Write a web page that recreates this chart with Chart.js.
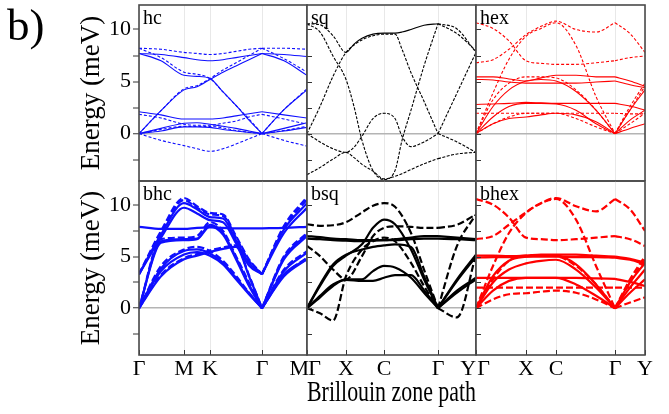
<!DOCTYPE html>
<html><head><meta charset="utf-8">
<script src="https://cdn.jsdelivr.net/npm/chart.js@4.4.1/dist/chart.umd.min.js"></script>
<style>
html,body{margin:0;padding:0;background:#fff;}
#wrap{position:relative;width:669px;height:414px;overflow:hidden;background:#fff;}
canvas{position:absolute;left:0;top:0;}
</style></head><body><div id="wrap">
<canvas id="c0" width="669" height="414"></canvas>
<canvas id="c1" width="669" height="414"></canvas>
<canvas id="c2" width="669" height="414"></canvas>
<canvas id="c3" width="669" height="414"></canvas>
<canvas id="c4" width="669" height="414"></canvas>
<canvas id="c5" width="669" height="414"></canvas>
</div>
<script>
// ---------- data (meV) ----------
const yTickVals = [-2.5, 0, 2.5, 5, 7.5, 10];
const yMin = -4.55, yMax = 12.35;

// honeycomb path  Γ-M-K-Γ-M
const kHc = [0, 22, 45, 58, 71, 84, 97, 110, 123, 145, 168];
const hcTickPos = [0, 45, 71, 123, 168];
const hcTickNames = ['Γ', 'M', 'K', 'Γ', 'M\u2002\u2009'];
// square path Γ-X-C-Γ-Y
const kSq = [0, 13, 26, 39, 47, 55, 66, 77, 88, 95, 104, 117, 131, 150, 169];
const kBsq = [0, 13, 26, 39, 55, 66, 77, 88, 104, 117, 131, 150, 169];
const sqTickPos = [0, 39, 77, 131, 169];
const sqTickNames = ['\u2009\u2002Γ', 'X', 'C', 'Γ', 'Y\u2002\u2009'];
// hexagonal (rect. cell) path Γ-X-C-Γ-Y
const kHex = [0, 17, 33, 50, 65, 80, 100, 120, 139, 154, 169];
const hexTickPos = [0, 50, 80, 139, 169];
const hexTickNames = ['\u2009\u2002Γ', 'X', 'C', 'Γ', 'Y'];

// hc
const hc1 = [8.2, 8.1, 7.8, 7.7, 7.6, 7.7, 7.9, 8.1, 8.2, 8.2, 8.1];
const hc2 = [7.7, 7.6, 7.3, 7.1, 7.0, 7.1, 7.3, 7.5, 7.7, 7.6, 7.4];
const hc3 = [7.7, 7.0, 5.6, 5.5, 5.3, 4.0, 2.7, 1.3, 0, 2.3, 4.2];
const hc3d = [8.2, 7.3, 5.9, 5.7, 5.3, 4.0, 2.7, 1.4, 0, 2.3, 4.3];
const hc4 = [0, 2.2, 4.2, 4.5, 5.2, 5.9, 6.5, 7.1, 7.7, 7.0, 5.6];
const hc4d = [0, 2.2, 4.3, 4.6, 5.3, 6.1, 6.8, 7.5, 8.2, 7.2, 5.9];
const hc5 = [2.1, 1.8, 1.4, 1.4, 1.4, 1.5, 1.7, 1.9, 2.1, 1.8, 1.5];
const hc6 = [1.85, 1.5, 0.9, 0.8, 0.8, 1.0, 1.2, 1.6, 1.85, 1.4, 0.9];
const hc7 = [0, 0.5, 1.0, 1.05, 0.9, 0.7, 0.5, 0.25, 0, 0.5, 1.05];
const hc8 = [0, 0.4, 0.7, 0.7, 0.7, 0.55, 0.3, 0.13, 0, 0.3, 0.7];
const hc9 = [0, 0.25, 0.65, 0.65, 0.6, 0.4, 0.25, 0.1, 0, 0.25, 0.6];
const hc10 = [0, -0.65, -1.15, -1.45, -1.7, -1.45, -1.0, -0.5, 0, -0.65, -1.2];

// sq
const sqA = [10.55, 10.45, 9.4, 7.8, 8.6, 9.15, 9.55, 9.65, 9.65, 9.75, 10.0, 10.4, 10.55, 9.6, 7.95];
const sqB = [10.55, 9.75, 7.45, 5.2, 2.6, -0.65, -3.55, -4.4, -3.55, -0.65, 2.25, 6.5, 10.55, 10.05, 7.8];
const sqC = [0, 2.6, 5.5, 7.8, 8.5, 9.0, 9.4, 9.55, 9.55, 8.1, 5.85, 3.1, 0, -0.8, -1.8];
const sqD = [0, -0.8, -1.45, -1.8, -1.3, -0.25, 1.45, 1.95, 1.45, -0.25, -1.25, -0.8, 0, 3.9, 7.8];
const sqE = [-3.95, -3.25, -2.45, -1.8, -2.3, -2.95, -3.6, -4.35, -4.1, -3.85, -3.45, -2.9, -2.4, -1.95, -1.8];

// hex
const hex1 = [10.65, 10.1, 8.9, 7.0, 6.75, 6.65, 6.65, 6.8, 7.0, 7.3, 7.45];
const hex2 = [6.8, 7.1, 8.1, 9.5, 10.3, 10.8, 10.0, 9.75, 10.65, 9.6, 7.8];
const hex3 = [0, 3.9, 7.15, 9.35, 10.1, 10.65, 8.45, 3.55, 0, 2.3, 4.55];
const hex4 = [5.45, 5.45, 5.25, 5.05, 5.35, 5.6, 5.6, 5.45, 5.45, 5.05, 4.55];
const hex5 = [5.2, 5.15, 4.95, 4.85, 4.85, 4.85, 4.85, 4.95, 5.05, 4.7, 4.4];
const hex6 = [2.8, 2.85, 2.9, 3.0, 2.95, 2.9, 2.9, 2.9, 2.9, 2.65, 2.25];
const hex7 = [1.95, 1.95, 1.95, 1.95, 1.95, 1.95, 1.95, 1.95, 1.95, 1.9, 1.9];
const hex8 = [0, 0.95, 1.45, 1.6, 1.8, 1.95, 1.8, 1.15, 0, 0.5, 0.95];
const hex9 = [0, 2.6, 4.2, 5.05, 5.2, 5.05, 4.05, 2.25, 0, 2.25, 4.2];
const hex10 = [0, 3.25, 4.85, 5.45, 5.45, 5.35, 4.2, 2.25, 0, 2.6, 4.85];
const hex11 = [0, 1.6, 2.6, 2.9, 2.9, 2.85, 2.25, 0.95, 0, 1.3, 2.25];
const hex12 = [0, 0.95, 1.6, 1.95, 1.95, 1.95, 1.45, 0.65, 0, 0.95, 1.95];

// bhc
const bhcFlat = [7.9, 7.7, 7.7, 7.8, 7.85, 7.8, 7.75, 7.75, 7.75, 7.8, 7.9];
const bhcT1 = [3.3, 7.5, 10.7, 9.9, 9.25, 9.1, 7.0, 4.75, 3.3, 8.0, 10.8];
const bhcT2 = [3.3, 7.3, 10.5, 9.75, 9.1, 8.95, 6.85, 4.6, 3.3, 7.8, 10.55];
const bhcT3 = [3.3, 7.15, 10.2, 9.6, 8.85, 8.7, 6.6, 4.4, 3.3, 7.65, 10.2];
const bhcT4 = [3.3, 6.85, 9.75, 9.2, 8.55, 8.35, 6.3, 4.15, 3.3, 7.3, 9.75];
const bhcM1 = [0, 6.7, 6.85, 7.0, 8.35, 7.5, 5.05, 2.5, 0, 5.05, 7.3];
const bhcM2 = [0, 6.5, 6.7, 6.75, 8.1, 7.3, 4.9, 2.3, 0, 4.9, 7.15];
const bhcM3 = [0, 6.35, 6.6, 6.7, 7.95, 7.15, 4.75, 2.15, 0, 4.75, 7.0];
const bhcL1 = [0, 4.1, 5.7, 5.95, 5.55, 4.6, 3.15, 1.5, 0, 3.75, 5.55];
const bhcL2 = [0, 3.85, 5.55, 5.7, 5.3, 4.4, 2.95, 1.45, 0, 3.6, 5.4];
const bhcL3 = [0, 3.6, 5.2, 5.45, 5.1, 4.25, 2.8, 1.35, 0, 3.3, 4.75];
const bhcB1 = [0, 3.1, 4.75, 5.1, 5.45, 5.75, 5.95, 3.1, 0, 3.1, 4.75];
const bhcB2 = [0, 3.25, 4.85, 5.25, 5.6, 5.9, 6.1, 3.2, 0, 3.2, 4.9];

// bsq
const bsqD1 = [8.15, 8.0, 8.05, 8.35, 9.3, 9.95, 10.2, 9.85, 7.3, 3.75, 0, 6.05, 9.1];
const bsqD2 = [6.05, 5.05, 3.75, 2.8, 5.05, 7.0, 7.8, 7.95, 7.9, 7.8, 7.8, 8.1, 9.1];
const bsqD3 = [0, -0.5, -1.2, 3.1, 5.7, 6.5, 6.85, 6.5, 4.4, 2.15, 0, -0.9, 5.2];
const bsqF1 = [7.0, 6.9, 6.75, 6.7, 6.6, 6.6, 6.6, 6.7, 6.85, 7.0, 7.0, 6.85, 6.7];
const bsqF2 = [6.75, 6.7, 6.6, 6.55, 6.5, 6.55, 6.6, 6.6, 6.7, 6.75, 6.75, 6.7, 6.6];
const bsqS1 = [0, 2.15, 4.1, 5.1, 6.2, 7.8, 8.6, 8.15, 5.7, 2.8, 0, 2.8, 5.2];
const bsqS2 = [0, 2.3, 4.25, 5.2, 5.7, 5.95, 6.1, 6.2, 5.95, 3.1, 0, 2.65, 5.0];
const bsqS3 = [0, 1.05, 2.15, 2.8, 2.8, 3.6, 4.1, 3.95, 2.95, 1.5, 0, 1.5, 2.8];
const bsqS4 = [0, 1.2, 2.3, 2.75, 2.65, 2.65, 2.95, 3.2, 3.2, 1.75, 0, 1.7, 2.95];

// bhex
const bhex1 = [10.6, 10.05, 8.8, 6.85, 6.7, 6.6, 6.7, 6.85, 7.0, 6.7, 6.05];
const bhex2 = [6.7, 7.0, 8.1, 9.3, 10.2, 10.7, 9.9, 9.4, 10.6, 9.6, 7.5];
const bhex3 = [0, 4.1, 7.3, 9.25, 10.2, 10.6, 8.6, 4.1, 0, 2.5, 4.75];
const bhex4 = [5.1, 5.1, 5.05, 5.1, 5.2, 5.2, 5.2, 5.1, 5.0, 4.8, 4.4];
const bhex5 = [4.9, 4.95, 4.95, 5.0, 5.0, 5.0, 4.95, 4.95, 4.9, 4.7, 4.25];
const bhex6 = [2.95, 2.95, 2.95, 2.95, 2.95, 2.95, 2.95, 2.9, 2.85, 2.55, 2.15];
const bhex7 = [2.0, 2.0, 2.0, 2.0, 2.0, 2.0, 2.0, 2.0, 2.0, 2.0, 2.0];
const bhex8 = [0, 0.85, 1.35, 1.45, 1.6, 1.7, 1.5, 0.85, 0, 0.55, 1.05];
const bhex9 = [0, 3.1, 4.6, 5.0, 5.1, 5.1, 4.25, 2.3, 0, 2.5, 4.4];
const bhex10 = [0, 2.5, 3.75, 4.35, 4.6, 4.7, 3.75, 2.0, 0, 2.0, 3.75];
const bhex11 = [0, 1.7, 2.65, 2.95, 2.95, 2.95, 2.3, 1.2, 0, 1.5, 2.8];
const bhex12 = [0, 2.8, 4.6, 5.1, 5.1, 5.05, 4.1, 2.3, 0, 2.8, 5.05];

// ---------- layout / style ----------
const W = 669, H = 414;
const colX = [139, 307, 476, 645];
const rowY = [5, 181, 355];
const FONT = "'Liberation Serif', 'Times New Roman', serif";
const BLUE = 'rgb(15,15,255)', RED = 'rgb(255,0,0)', BLACK = '#000';

// solidRange: [x0, x1] interval of k drawn solid (others use dash)
function bandSets(k, bands, color, width, dash, split, solidRange) {
  const out = [];
  bands.forEach(b => {
    [[0, split], [split, k.length - 1]].forEach(([i0, i1]) => {
      const pts = [];
      for (let i = i0; i <= i1; i++) pts.push({x: k[i], y: b[i]});
      const ds = {data: pts, borderColor: color, borderWidth: width, borderDash: dash,
        pointRadius: 0, fill: false, cubicInterpolationMode: 'monotone', borderCapStyle: 'butt'};
      if (solidRange) {
        ds.segment = {borderDash: c => (c.p0.parsed.x >= solidRange[0] && c.p1.parsed.x <= solidRange[1]) ? [] : dash};
      }
      out.push(ds);
    });
  });
  return out;
}

const panelDeco = {
  id: 'panelDeco',
  afterDatasetsDraw(chart, args, o) {
    const {ctx, chartArea: a} = chart;
    const ys = chart.scales.y, xs = chart.scales.x;
    ctx.save();
    ctx.strokeStyle = '#333'; ctx.lineWidth = 1;
    if (o.innerTicks) {
      ys.ticks.forEach(t => {
        const py = Math.round(ys.getPixelForValue(t.value)) + 0.5;
        ctx.beginPath(); ctx.moveTo(a.left, py); ctx.lineTo(a.left + 5, py); ctx.stroke();
      });
    }
    if (o.bottomTicks) {
      xs.ticks.forEach(t => {
        const px = Math.round(xs.getPixelForValue(t.value)) + 0.5;
        ctx.beginPath(); ctx.moveTo(px, a.bottom); ctx.lineTo(px, a.bottom - 5); ctx.stroke();
      });
    }
    ctx.strokeStyle = '#4a4a4a'; ctx.lineWidth = 1.6;
    ctx.strokeRect(a.left, a.top, a.right - a.left, a.bottom - a.top);
    ctx.fillStyle = '#000'; ctx.textBaseline = 'alphabetic'; ctx.textAlign = 'left';
    ctx.font = '20px ' + FONT;
    ctx.fillText(o.label, a.left + 4, a.top + 18.5);
    if (o.figLabel) { ctx.font = '45px ' + FONT; ctx.fillText(o.figLabel, 7, 40); }
    ctx.restore();
  }
};

function makePanel(id, p) {
  const left = colX[p.col], right = colX[p.col + 1], top = rowY[p.row], bottom = rowY[p.row + 1];
  const isLeft = p.col === 0, isBottom = p.row === 1;
  new Chart(document.getElementById(id), {
    type: 'line',
    data: {datasets: p.datasets},
    options: {
      responsive: false, animation: false, devicePixelRatio: 1, events: [],
      layout: {padding: {left: isLeft ? 0 : left, right: W - right, top: top, bottom: isBottom ? 0 : H - bottom}},
      plugins: {legend: {display: false}, tooltip: {enabled: false},
        panelDeco: {label: p.label, innerTicks: !isLeft, bottomTicks: isBottom, figLabel: p.figLabel}},
      scales: {
        x: {
          type: 'linear', min: 0, max: p.tickPos[p.tickPos.length - 1],
          afterBuildTicks: s => { s.ticks = p.tickPos.map(v => ({value: v})); },
          afterFit: s => { s.height = isBottom ? H - bottom : 0; s.paddingLeft = 0; s.paddingRight = 0; },
          grid: {color: '#e8e8e8', lineWidth: 1, drawTicks: false},
          border: {display: false},
          ticks: {display: isBottom, autoSkip: false, maxRotation: 0, minRotation: 0, padding: 1,
            color: '#000', font: {family: FONT, size: 22}, callback: (v, i) => p.tickNames[i]},
          title: {display: !!p.xTitle, text: p.xTitle || '', color: '#000',
            font: {family: FONT, size: 30}, padding: {top: 0, bottom: 3}}
        },
        y: {
          type: 'linear', min: yMin, max: yMax,
          afterBuildTicks: s => { s.ticks = yTickVals.map(v => ({value: v})); },
          afterFit: s => { s.width = isLeft ? left : 0; s.paddingTop = 0; s.paddingBottom = 0; },
          grid: {
            color: c => (c.tick && c.tick.value === 0) ? '#b4b4b4' : 'rgba(0,0,0,0)',
            lineWidth: c => (c.tick && c.tick.value === 0) ? 1.5 : 0,
            drawTicks: isLeft, tickLength: 6, tickColor: '#333', tickWidth: 1
          },
          border: {display: false},
          ticks: {display: isLeft, padding: 2, color: '#000', font: {family: FONT, size: 22},
            callback: v => (v % 5 === 0 ? String(v) : '')},
          title: {display: isLeft, text: 'Energy (meV)', color: '#000',
            font: {family: FONT, size: 27}, padding: {top: 76, bottom: 0}}
        }
      }
    },
    plugins: [panelDeco]
  });
}

const thin = 1.1, thick = 2.2;
const dThin = [3, 2], dSq = [3, 1.5], dThick = [7, 3];

makePanel('c0', {row: 0, col: 0, label: 'hc', figLabel: 'b)', tickPos: hcTickPos, tickNames: hcTickNames,
  datasets: [].concat(
    bandSets(kHc, [hc2, hc3, hc4, hc5, hc7, hc9], BLUE, thin, [], 8),
    bandSets(kHc, [hc1, hc3d, hc4d, hc6, hc8, hc10], BLUE, thin, dThin, 8))});
makePanel('c1', {row: 0, col: 1, label: 'sq', tickPos: sqTickPos, tickNames: sqTickNames,
  datasets: [].concat(
    bandSets(kSq, [sqA], BLACK, thin, dSq, 12, [39, 131]),
    bandSets(kSq, [sqB, sqC, sqD, sqE], BLACK, thin, dSq, 12))});
makePanel('c2', {row: 0, col: 2, label: 'hex', tickPos: hexTickPos, tickNames: hexTickNames,
  datasets: [].concat(
    bandSets(kHex, [hex4, hex5, hex6, hex8, hex9, hex11], RED, thin, [], 8),
    bandSets(kHex, [hex1, hex2, hex3, hex7, hex10, hex12], RED, thin, dThin, 8))});
makePanel('c3', {row: 1, col: 0, label: 'bhc', tickPos: hcTickPos, tickNames: hcTickNames,
  datasets: [].concat(
    bandSets(kHc, [bhcFlat, bhcT3, bhcT4, bhcM2, bhcM3, bhcL2, bhcL3, bhcB1], BLUE, thick, [], 8),
    bandSets(kHc, [bhcT1, bhcT2, bhcM1, bhcL1, bhcB2], BLUE, thick, dThick, 8))});
makePanel('c4', {row: 1, col: 1, label: 'bsq', xTitle: 'Brillouin zone path', tickPos: sqTickPos, tickNames: sqTickNames,
  datasets: [].concat(
    bandSets(kBsq, [bsqF1, bsqF2, bsqS1, bsqS2, bsqS3, bsqS4], BLACK, thick, [], 10),
    bandSets(kBsq, [bsqD1, bsqD2, bsqD3], BLACK, thick, dThick, 10))});
makePanel('c5', {row: 1, col: 2, label: 'bhex', tickPos: hexTickPos, tickNames: hexTickNames,
  datasets: [].concat(
    bandSets(kHex, [bhex4, bhex5, bhex6, bhex9, bhex10, bhex11], RED, thick, [], 8),
    bandSets(kHex, [bhex1, bhex2, bhex3, bhex7, bhex8, bhex12], RED, thick, dThick, 8))});
</script>
</body></html>
